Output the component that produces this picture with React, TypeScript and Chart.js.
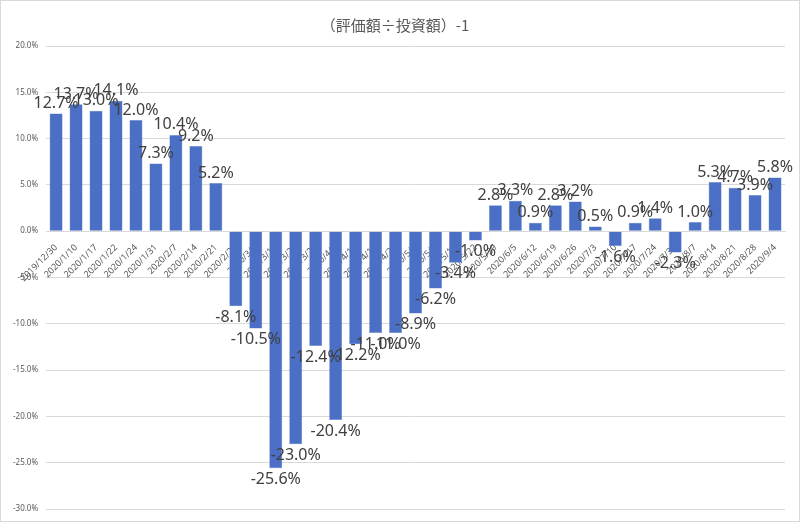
import React, { useEffect, useRef } from "react";
import { Chart, registerables } from "chart.js";

Chart.register(...registerables);

const TITLE = "（評価額÷投資額）-1";

const categories = [
  "2019/12/30", "2020/1/10", "2020/1/17", "2020/1/22", "2020/1/24", "2020/1/31",
  "2020/2/7", "2020/2/14", "2020/2/21", "2020/2/28", "2020/3/6", "2020/3/13",
  "2020/3/20", "2020/3/27", "2020/4/3", "2020/4/10", "2020/4/17", "2020/4/24",
  "2020/5/1", "2020/5/8", "2020/5/15", "2020/5/22", "2020/5/29", "2020/6/5",
  "2020/6/12", "2020/6/19", "2020/6/26", "2020/7/3", "2020/7/10", "2020/7/17",
  "2020/7/24", "2020/7/31", "2020/8/7", "2020/8/14", "2020/8/21", "2020/8/28",
  "2020/9/4",
];

const ratioValues = [
  12.7, 13.7, 13.0, 14.1, 12.0, 7.3, 10.4, 9.2, 5.2, -8.1, -10.5, -25.6,
  -23.0, -12.4, -20.4, -12.2, -11.0, -11.0, -8.9, -6.2, -3.4, -1.0, 2.8, 3.3,
  0.9, 2.8, 3.2, 0.5, -1.6, 0.9, 1.4, -2.3, 1.0, 5.3, 4.7, 3.9, 5.8,
];

const yMin = -30;
const yMax = 20;
const yStep = 5;

const labelPlugin = {
  id: "barLabels",
  afterDatasetsDraw(chart: any) {
    const ctx = chart.ctx;
    const meta = chart.getDatasetMeta(0);
    const data = chart.data.datasets[0].data as number[];
    ctx.save();
    ctx.font = "16px 'Noto Sans', sans-serif";
    ctx.fillStyle = "#404040";
    ctx.textAlign = "center";
    meta.data.forEach((el: any, i: number) => {
      const v = data[i];
      const text = v.toFixed(1) + "%";
      if (v >= 0) {
        ctx.textBaseline = "bottom";
        ctx.fillText(text, el.x, el.y - 2);
      } else {
        ctx.textBaseline = "top";
        ctx.fillText(text, el.x, el.y + 3);
      }
    });
    ctx.restore();
  },
};

export default function App() {
  const canvasRef = useRef<HTMLCanvasElement | null>(null);

  useEffect(() => {
    document.body.style.margin = "0";
    const canvas = canvasRef.current;
    if (!canvas) return;
    const chart = new Chart(canvas, {
      type: "bar",
      data: {
        labels: categories,
        datasets: [
          {
            data: ratioValues,
            backgroundColor: "#4a6fc4",
            borderColor: "#6a8ad0",
            borderWidth: 0.5,
            barPercentage: 0.65,
            categoryPercentage: 1,
          },
        ],
      },
      options: {
        animation: false,
        responsive: false,
        maintainAspectRatio: false,
        layout: { padding: { left: 4, right: 14, top: 5, bottom: 12 } },
        plugins: {
          legend: { display: false },
          tooltip: { enabled: false },
          title: {
            display: true,
            text: TITLE,
            color: "#595959",
            font: { family: "'Noto Sans CJK JP', sans-serif", size: 15, weight: "normal" },
            padding: { top: 10, bottom: 12 },
          },
        },
        scales: {
          x: {
            position: { y: 0 } as any,
            grid: { display: false },
            border: { display: true, color: "#d9d9d9" },
            ticks: {
              color: "#595959",
              font: { family: "'Noto Sans', sans-serif", size: 9 },
              maxRotation: 45,
              minRotation: 45,
              autoSkip: false,
              padding: 3,
            },
          },
          y: {
            min: yMin,
            max: yMax,
            grid: { color: "#d9d9d9", drawTicks: false },
            border: { display: false },
            ticks: {
              stepSize: yStep,
              color: "#595959",
              font: { family: "'Noto Sans', sans-serif", size: 8, lineHeight: 0.6 },
              padding: 8,
              callback: (v: any) => Number(v).toFixed(1) + "%",
            },
          },
        },
      },
      plugins: [labelPlugin],
    });
    return () => chart.destroy();
  }, []);

  return (
    <div style={{ width: 800, height: 522, boxSizing: "border-box", border: "1px solid #d9d9d9", background: "#fff" }}>
      <canvas ref={canvasRef} width={798} height={520} style={{ display: "block" }} />
    </div>
  );
}
